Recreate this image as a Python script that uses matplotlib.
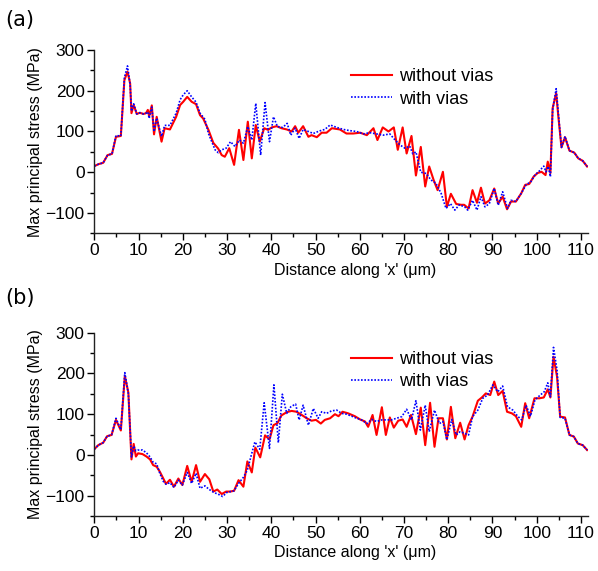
import matplotlib
matplotlib.use('Agg')
import matplotlib.pyplot as plt
from matplotlib.ticker import MultipleLocator

plt.rcParams['font.family'] = ['Liberation Sans', 'DejaVu Sans']

# ---- (a) ----
a_red_x = [0, 1, 2, 3, 4, 4.9, 6, 6.8, 7.5, 8.1, 8.4, 8.9, 9.6, 10.3, 11.1, 11.7, 12.1, 12.4, 13, 13.5,
           14.1, 14.6, 15.2, 15.9, 17.1, 18.5, 19.4, 20.1, 21, 22, 23, 23.9, 24.6, 25.8, 26.9, 28, 28.8, 29.5, 30.5, 31.6,
           32.7, 33.7, 34.7, 35.6, 36.5, 37.4, 38.4, 39.3, 40.1, 41.2, 42.3, 43.5, 44.6, 45.4, 46.1, 47.2, 48.4, 49.1, 50.3, 51.4,
           52.5, 53.7, 55.5, 57, 58.5, 60.1, 61.6, 63.1, 64, 65.2, 66.5, 67.7, 68.6, 69.7, 70.6, 71.7, 72.7, 73.8, 74.8, 75.7,
           76.7, 77.6, 78.8, 79.7, 80.6, 81.8, 82.9, 83.6, 84.6, 85.5, 86.5, 87.4, 88.3, 89.3, 90.4, 91.3, 92.3, 93.3, 94.2, 95.3,
           96.5, 97.4, 98.3, 99.3, 100.2, 101.1, 102, 102.5, 103.1, 103.6, 104.4, 104.9, 105.6, 106.4, 107.4, 108.5, 109.4, 110.4, 111.4]
a_red_y = [15, 20, 23, 42, 45, 87, 89, 226, 247, 218, 145, 165, 143, 146, 143, 145, 153, 138, 164, 93,
           136, 108, 75, 108, 105, 136, 165, 173, 185, 173, 167, 140, 132, 104, 72, 58, 42, 38, 59, 18,
           104, 30, 124, 34, 116, 75, 108, 104, 110, 113, 108, 105, 100, 113, 97, 113, 87, 91, 86, 97,
           97, 108, 105, 95, 95, 97, 91, 108, 79, 110, 100, 110, 55, 110, 46, 89, -8, 62, -35, 14,
           -19, -44, 1, -85, -53, -78, -80, -80, -89, -44, -75, -38, -77, -69, -40, -77, -60, -91, -72, -72,
           -52, -31, -29, -11, -2, 1, -7, 26, -2, 157, 194, 136, 61, 86, 53, 48, 34, 28, 14]

a_blue_x = [0, 1, 2, 3, 4, 4.9, 6, 6.8, 7.5, 8.1, 8.4, 8.9, 9.6, 10.3, 11.1, 11.7, 12.1, 12.4, 13, 13.5,
            14.1, 14.6, 15.2, 15.9, 17.1, 18.5, 19.4, 20.1, 21, 22, 23, 23.9, 25, 25.8, 27.3, 28, 28.8, 29.8, 30.8, 31.8,
            32.8, 33.7, 34.7, 35.6, 36.5, 37.6, 38.6, 39.6, 40.5, 41.4, 42.6, 43.6, 44.4, 45.4, 46.3, 47.2, 48.4, 49.5, 50.6, 51.4,
            52.1, 53.3, 54.8, 56.3, 57.8, 59.3, 60.8, 62.3, 63.8, 65.3, 66.8, 68, 69.1, 70.2, 71.3, 72, 72.7, 73.8, 75, 76.1,
            77.2, 78.4, 79.5, 80.5, 81.5, 82.5, 83.7, 84.4, 85.5, 86.5, 87.4, 88.3, 89.3, 90.4, 91.3, 92.3, 93.4, 94.2, 95.3, 96.5,
            97.6, 98.7, 99.6, 100.6, 101.6, 102.1, 102.6, 103.1, 103.6, 104.4, 104.9, 105.6, 106.4, 107.4, 108.5, 109.4, 110.4, 111.4]
a_blue_y = [15, 20, 23, 42, 45, 90, 89, 232, 261, 215, 150, 168, 143, 146, 143, 145, 148, 132, 160, 100,
            133, 112, 88, 115, 115, 145, 178, 190, 200, 185, 172, 145, 130, 95, 55, 48, 55, 59, 75, 63,
            79, 71, 112, 79, 169, 42, 171, 75, 136, 112, 110, 120, 91, 108, 83, 105, 100, 95, 100, 103,
            105, 116, 110, 105, 102, 100, 94, 97, 94, 91, 94, 79, 67, 59, 64, 45, 50, 0, -3, -19,
            -27, -52, -89, -77, -93, -80, -85, -93, -69, -93, -60, -85, -77, -40, -81, -48, -89, -69, -72, -52,
            -31, -23, -7, 3, 15, 1, 14, -11, 153, 205, 144, 61, 88, 53, 48, 34, 28, 14]

# ---- (b) ----
b_red_x = [0, 0.9, 2, 2.9, 3.9, 4.9, 6, 6.9, 7.7, 8.4, 8.9, 9.4, 9.9, 10.9, 11.8, 12.6, 13.3, 14.1, 14.8, 15.6,
           16.2, 17.1, 18, 19, 19.9, 21, 22, 23, 23.9, 25, 26, 26.9, 27.8, 28.8, 29.8, 30.7, 31.6, 32.6, 33.7, 34.6,
           35.6, 36.4, 37.5, 38.6, 39.6, 40.5, 41.4, 42.3, 43.5, 44.6, 45.7, 46.9, 48, 49.1, 50.1, 51.2, 52.1, 53.3, 54.4, 55.2,
           56.1, 57.4, 58.9, 60.1, 61.2, 61.9, 62.9, 63.8, 65, 65.9, 66.8, 67.7, 68.7, 69.7, 70.6, 71.6, 72.7, 73.8, 74.8, 75.9,
           76.9, 77.8, 78.8, 79.7, 80.6, 81.6, 82.7, 83.7, 84.6, 85.5, 86.7, 87.6, 88.5, 89.5, 90.4, 91.3, 92.3, 93.3, 94.4, 95.3,
           96.5, 97.4, 98.3, 99.5, 100.6, 101.6, 102.5, 103.1, 103.8, 104.6, 105.3, 106.4, 107.4, 108.4, 109.3, 110.4, 111.4]
b_red_y = [14, 24, 30, 46, 49, 86, 60, 194, 153, -11, 27, -4, 4, 2, -4, -11, -25, -29, -41, -58,
           -71, -61, -78, -58, -74, -27, -66, -25, -66, -47, -60, -90, -85, -96, -90, -90, -88, -62, -78, -16,
           -43, 18, -6, 48, 38, 73, 78, 97, 105, 108, 106, 98, 90, 84, 86, 77, 86, 90, 100, 95,
           106, 102, 95, 87, 82, 69, 98, 49, 117, 49, 92, 67, 84, 87, 69, 98, 51, 116, 24, 128,
           20, 90, 90, 38, 118, 41, 79, 38, 73, 94, 133, 141, 151, 147, 180, 147, 157, 106, 102, 95,
           69, 127, 90, 139, 139, 141, 161, 141, 241, 192, 94, 92, 49, 45, 28, 24, 12]

b_blue_x = [0, 0.9, 2, 2.9, 3.9, 4.9, 6, 6.9, 7.7, 8.4, 8.9, 9.4, 9.9, 10.9, 11.8, 12.6, 13.3, 14.1, 14.8, 15.6,
            16.2, 17.1, 18, 19, 19.9, 21, 22, 23, 23.9, 25, 26, 27, 28.3, 29, 30, 31.6, 32.6, 33.7, 34.6, 35.6,
            36.3, 37.4, 38.4, 39.6, 40.6, 41.6, 42.5, 43.5, 44.4, 45.5, 46.3, 47.2, 48.4, 49.5, 50.6, 51.4, 52.5, 53.6, 54.8, 55.9,
            57, 58.2, 59.3, 60.4, 61.6, 62.7, 63.8, 65, 66.1, 67.2, 68.3, 69.5, 70.6, 71.7, 72.7, 73.7, 74.8, 75.7, 76.9, 78,
            78.8, 79.7, 80.8, 81.8, 82.7, 83.7, 84.6, 85.5, 86.7, 87.8, 88.9, 90.1, 91.2, 92.3, 93.4, 94.6, 95.7, 96.6, 97.6, 98.6,
            99.6, 100.8, 101.7, 102.5, 103.1, 103.8, 104.6, 105.3, 106.4, 107.4, 108.4, 109.3, 110.4, 111.4]
b_blue_y = [14, 24, 30, 46, 49, 90, 62, 202, 150, -5, 22, 10, 12, 12, 5, -5, -18, -22, -45, -65,
            -72, -68, -80, -62, -74, -43, -70, -45, -82, -76, -85, -92, -98, -102, -92, -88, -70, -55, -37, 4,
            32, 14, 128, 16, 172, 30, 149, 102, 118, 125, 86, 122, 73, 114, 90, 106, 102, 108, 110, 102,
            100, 95, 90, 86, 77, 87, 82, 86, 86, 86, 90, 94, 112, 86, 133, 61, 122, 57, 110, 77,
            82, 37, 87, 49, 57, 53, 49, 94, 110, 139, 147, 172, 155, 169, 118, 110, 95, 86, 122, 95,
            135, 147, 155, 177, 143, 264, 208, 92, 90, 49, 45, 28, 24, 12]

x_ticks = [0, 10, 20, 30, 40, 50, 60, 70, 80, 90, 100, 110]
y_ticks = [-100, 0, 100, 200, 300]

fig = plt.figure(figsize=(5.98, 5.71), dpi=100)
ax_a = fig.add_axes([0.1577, 0.5914, 0.8256, 0.321])
ax_b = fig.add_axes([0.1577, 0.0963, 0.8256, 0.321])

panels = [
    (ax_a, a_red_x, a_red_y, a_blue_x, a_blue_y, '(a)', 0.965),
    (ax_b, b_red_x, b_red_y, b_blue_x, b_blue_y, '(b)', 0.478),
]

for ax, rx, ry, bx, by, tag, tag_y in panels:
    ax.plot(rx, ry, color='#ff0000', lw=1.5, label='without vias')
    ax.plot(bx, by, color='#0000ff', lw=1.2, linestyle=(0, (1, 1)), label='with vias')

    ax.set_xlim(0, 111.6)
    ax.set_ylim(-150, 300)
    ax.set_xticks(x_ticks)
    ax.set_yticks(y_ticks)
    ax.xaxis.set_minor_locator(MultipleLocator(5))
    ax.yaxis.set_minor_locator(MultipleLocator(50))
    ax.tick_params(which='major', direction='out', length=5, width=1, labelsize=12.5, pad=2)
    ax.tick_params(which='minor', direction='out', length=3, width=1)
    for s in ['top', 'right']:
        ax.spines[s].set_visible(False)
    for s in ['left', 'bottom']:
        ax.spines[s].set_linewidth(1)
        ax.spines[s].set_color('#222222')

    ax.set_xlabel("Distance along 'x' (μm)", fontsize=11.5)
    ax.set_ylabel('Max principal stress (MPa)', fontsize=11.5, labelpad=2)
    ax.xaxis.set_label_coords(0.528, -0.16)

    ax.legend(loc='upper left', bbox_to_anchor=(0.505, 0.94), frameon=False, fontsize=13,
              handlelength=2.3, handletextpad=0.35, labelspacing=0.3, borderaxespad=0)

    fig.text(0.008, tag_y, tag, fontsize=15, family='DejaVu Sans', ha='left', va='center')

plt.savefig('out.png', dpi=100)
